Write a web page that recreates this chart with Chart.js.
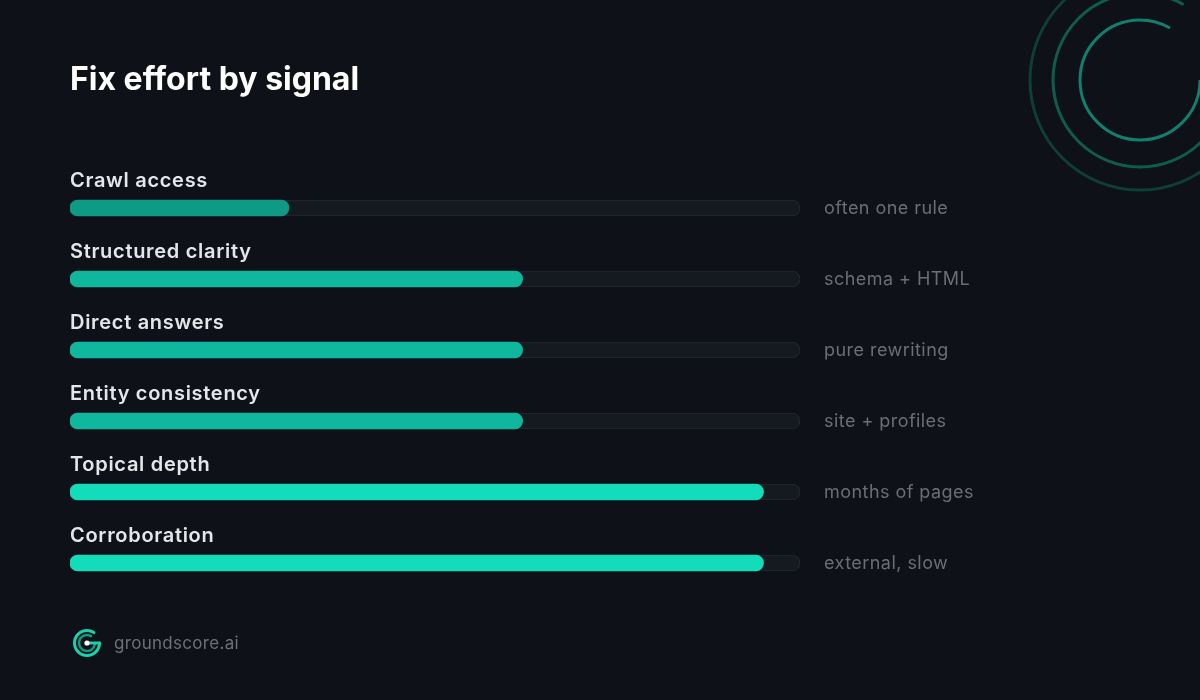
<!DOCTYPE html>
<html>
<head>
<meta charset="utf-8">
<title>Fix effort by signal</title>
<script src="https://cdn.jsdelivr.net/npm/chart.js@4"></script>
<style>
  html, body { margin: 0; padding: 0; background: #0f1118; }
  #wrap { width: 1200px; height: 700px; position: relative; }
</style>
</head>
<body>
<div id="wrap"><canvas id="myChart" width="1200" height="700"></canvas></div>
<script>
// data
var signals = ["Crawl access", "Structured clarity", "Direct answers", "Entity consistency", "Topical depth", "Corroboration"];
var effort = [30, 62, 62, 62, 95, 95];
var notes = ["often one rule", "schema + HTML", "pure rewriting", "site + profiles", "months of pages", "external, slow"];
var maxEffort = 100;

var FONT = "Inter, 'Noto Sans', sans-serif";

function barColor(v) {
  if (v < 50) return "#0f9a84";
  if (v < 80) return "#0fb89c";
  return "#12dcb9";
}

// background, rings, title, logo
var decor = {
  id: "decor",
  beforeDraw: function (chart) {
    var ctx = chart.ctx;
    ctx.save();
    ctx.fillStyle = "#0f1118";
    ctx.fillRect(0, 0, chart.width, chart.height);

    // rings top right
    var rings = [[60, "#137e6b"], [87, "#0f5c4e"], [110, "#0e3e36"]];
    ctx.lineWidth = 3;
    rings.forEach(function (r) {
      ctx.strokeStyle = r[1];
      ctx.beginPath();
      ctx.arc(1140, 80, r[0], 0, -Math.PI / 3);
      ctx.stroke();
    });

    // title
    ctx.fillStyle = "#ffffff";
    ctx.font = "700 32px " + FONT;
    ctx.textBaseline = "middle";
    ctx.textAlign = "left";
    ctx.fillText("Fix effort by signal", 70, 80);

    // logo
    var lx = 87, ly = 643;
    ctx.lineCap = "round";
    ctx.strokeStyle = "#1bd1ab";
    ctx.lineWidth = 3;
    ctx.beginPath();
    ctx.arc(lx, ly, 12.5, 0, -Math.PI / 3.2);
    ctx.stroke();
    ctx.strokeStyle = "#129a80";
    ctx.lineWidth = 2.5;
    ctx.beginPath();
    ctx.arc(lx, ly, 8, 0.2, -Math.PI / 3);
    ctx.stroke();
    ctx.strokeStyle = "#1bd1ab";
    ctx.lineWidth = 3;
    ctx.beginPath();
    ctx.moveTo(lx, ly);
    ctx.lineTo(lx + 12.5, ly);
    ctx.stroke();
    ctx.fillStyle = "#ffffff";
    ctx.beginPath();
    ctx.arc(lx, ly, 2.6, 0, Math.PI * 2);
    ctx.fill();

    ctx.fillStyle = "#6d7079";
    ctx.font = "400 17px " + FONT;
    ctx.letterSpacing = "0.3px";
    ctx.fillText("groundscore.ai", 114, 644);
    ctx.restore();
  },
  afterDatasetsDraw: function (chart) {
    var ctx = chart.ctx;
    var y = chart.scales.y;
    var x0 = chart.chartArea.left;
    var x1 = chart.chartArea.right;
    ctx.save();
    ctx.textBaseline = "middle";
    ctx.textAlign = "left";
    signals.forEach(function (s, i) {
      var py = y.getPixelForValue(i);
      ctx.fillStyle = "#e5e6e9";
      ctx.font = "600 20px " + FONT;
      ctx.letterSpacing = "0.7px";
      ctx.fillText(s, x0, py - 27);
      ctx.fillStyle = "#6b6e76";
      ctx.font = "400 18px " + FONT;
      ctx.letterSpacing = "0.45px";
      ctx.fillText(notes[i], x1 + 24, py + 1);
    });
    ctx.restore();
  }
};

new Chart("myChart", {
  type: "bar",
  data: {
    labels: signals,
    datasets: [
      {
        data: effort,
        backgroundColor: function (c) { return barColor(c.raw); },
        borderRadius: 8,
        borderSkipped: false,
        barThickness: 16,
        order: 0
      },
      {
        data: signals.map(function () { return maxEffort; }),
        backgroundColor: "#151920",
        borderColor: "#23272f",
        borderWidth: 1,
        borderRadius: 8,
        borderSkipped: false,
        barThickness: 16,
        order: 1
      }
    ]
  },
  options: {
    indexAxis: "y",
    responsive: false,
    animation: false,
    layout: { padding: { left: 70, right: 400, top: 172.5, bottom: 101.5 } },
    datasets: { bar: { grouped: false } },
    scales: {
      x: { display: false, min: 0, max: maxEffort },
      y: { display: false }
    },
    plugins: {
      legend: { display: false },
      tooltip: { enabled: false },
      title: { display: false }
    }
  },
  plugins: [decor]
});
</script>
</body>
</html>
